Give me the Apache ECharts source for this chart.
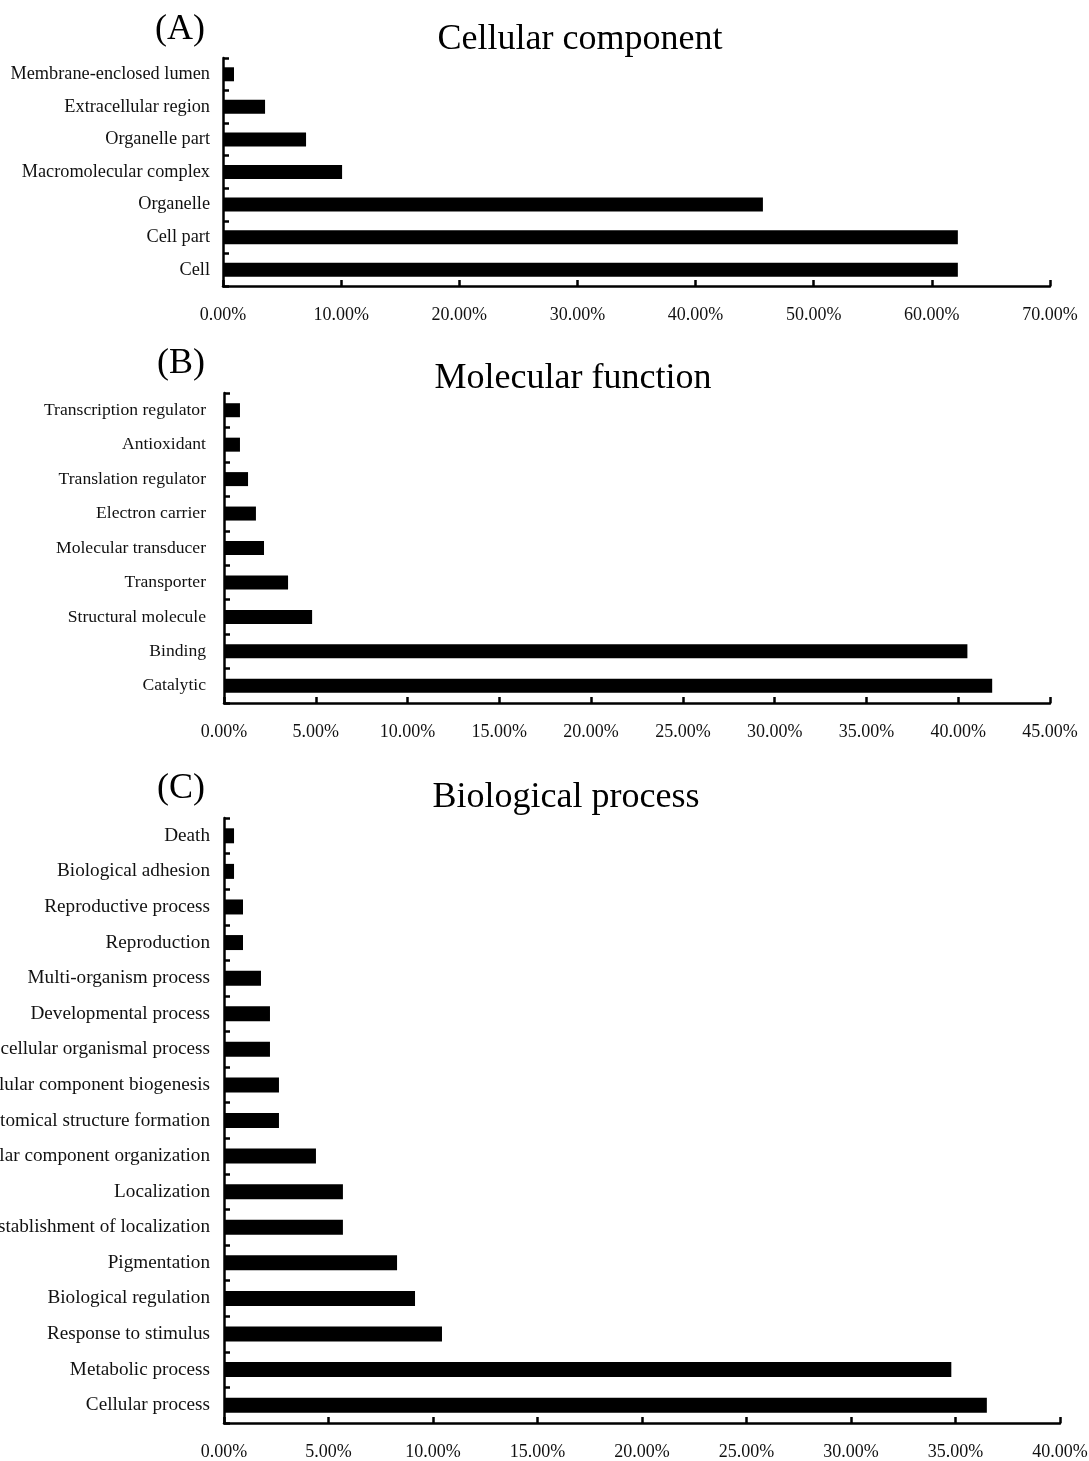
<!DOCTYPE html>
<html><head><meta charset="utf-8">
<script src="https://cdn.jsdelivr.net/npm/echarts@6/dist/echarts.min.js"></script>
<style>html,body{margin:0;padding:0;background:#fff}#c{width:1089px;height:1461px}</style>
</head><body><div id="c"></div>
<script>
// Panel A: Cellular component (top to bottom)
const catsA = ['Membrane-enclosed lumen','Extracellular region','Organelle part','Macromolecular complex','Organelle','Cell part','Cell'];
const valsA = [0.93, 3.56, 7.03, 10.08, 45.7, 62.2, 62.2];
const ticksA = {min:0, max:70, interval:10};
// Panel B: Molecular function
const catsB = ['Transcription regulator','Antioxidant','Translation regulator','Electron carrier','Molecular transducer','Transporter','Structural molecule','Binding','Catalytic'];
const valsB = [0.87, 0.87, 1.31, 1.74, 2.18, 3.49, 4.80, 40.5, 41.85];
const ticksB = {min:0, max:45, interval:5};
// Panel C: Biological process
const catsC = ['Death','Biological adhesion','Reproductive process','Reproduction','Multi-organism process','Developmental process','Multicellular organismal process','Cellular component biogenesis','Anatomical structure formation','Cellular component organization','Localization','Establishment of localization','Pigmentation','Biological regulation','Response to stimulus','Metabolic process','Cellular process'];
const valsC = [0.48, 0.48, 0.91, 0.91, 1.77, 2.2, 2.2, 2.63, 2.63, 4.4, 5.69, 5.69, 8.28, 9.14, 10.43, 34.8, 36.5];
const ticksC = {min:0, max:40, interval:5};

const FONT = '"Liberation Serif","Times New Roman",serif';
const chart = echarts.init(document.getElementById('c'), null, {renderer:'canvas'});

const grids = [
  {left:223, top:58, width:827, height:228, containLabel:false, outerBoundsMode:'none'},
  {left:224, top:393, width:826, height:310, containLabel:false, outerBoundsMode:'none'},
  {left:224, top:818, width:836, height:605, containLabel:false, outerBoundsMode:'none'}
];
const cats = [catsA, catsB, catsC];
const vals = [valsA, valsB, valsC];
const ticks = [ticksA, ticksB, ticksC];
const barW = [14, 14, 15];
const labMargin = [13, 18, 14];
const labSize = [18.3, 17.6, 19.2];

const axisLine = {show:true, lineStyle:{color:'#000', width:2.5}};
const xAxes = ticks.map((t,i)=>({
  type:'value', gridIndex:i, min:t.min, max:t.max, interval:t.interval,
  axisLine:axisLine, splitLine:{show:false},
  axisTick:{show:true, inside:true, length:6, lineStyle:{color:'#000', width:2.5}},
  axisLabel:{margin:20, color:'#111', fontFamily:FONT, fontSize:18, formatter:v=>v.toFixed(2)+'%'}
}));
const yAxes = cats.map((c,i)=>({
  type:'category', gridIndex:i, data:c, inverse:true,
  axisLine:axisLine,
  axisTick:{show:true, inside:true, length:6, lineStyle:{color:'#000', width:2.5}},
  axisLabel:{margin:labMargin[i], color:'#111', fontFamily:FONT, fontSize:labSize[i], padding:[4,0,0,0]}
}));
const series = vals.map((v,i)=>({
  type:'bar', xAxisIndex:i, yAxisIndex:i, data:v, barWidth:barW[i],
  itemStyle:{color:'#000'}, silent:true, animation:false
}));

const T = (text, x, y) => ({type:'text', x:x, y:y, silent:true,
  style:{text:text, fill:'#000', font:'36px '+FONT, textAlign:'center', textVerticalAlign:'middle'}});
chart.setOption({
  animation:false,
  graphic:[
    T('(A)', 180, 30),
    T('Cellular component', 580, 40),
    T('(B)', 181, 364),
    T('Molecular function', 573, 379),
    T('(C)', 181, 789),
    T('Biological process', 566, 798)
  ],
  grid:grids, xAxis:xAxes, yAxis:yAxes, series:series
});
</script></body></html>
